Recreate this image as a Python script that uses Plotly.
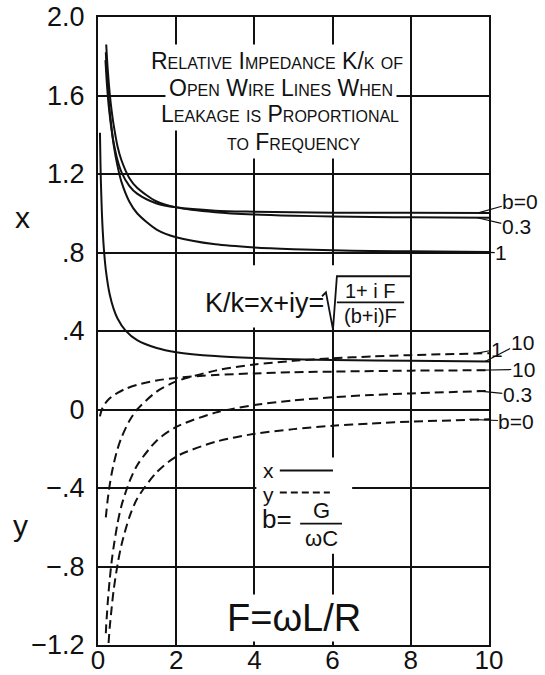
import plotly.graph_objects as go

# ---- data: F = omega L / R, x = Re(K/k), y = Im(K/k) for several b = G/(omega C)
F_b0 = [0.19, 0.22, 0.25, 0.27, 0.3, 0.35, 0.4, 0.5, 0.6, 0.8, 1, 1.5, 2, 3, 4, 5, 6, 7, 8, 10]
x_b0 = [1.78, 1.68, 1.60, 1.555, 1.50, 1.42, 1.36, 1.27, 1.21, 1.14, 1.10, 1.05, 1.03, 1.013,
        1.008, 1.005, 1.003, 1.0025, 1.002, 1.001]
Fy_b0 = [0.27, 0.3, 0.35, 0.4, 0.5, 0.6, 0.8, 1, 1.5, 2, 3, 4, 5, 6, 7, 8, 10]
y_b0 = [-1.19, -1.11, -1.01, -0.92, -0.79, -0.69, -0.55, -0.455, -0.32, -0.24, -0.165, -0.124,
        -0.10, -0.083, -0.071, -0.062, -0.05]

F_b03 = [0.21, 0.23, 0.25, 0.3, 0.35, 0.4, 0.5, 0.6, 0.8, 1, 1.5, 2, 3, 4, 5, 6, 7, 8, 10]
x_b03 = [1.86, 1.79, 1.73, 1.61, 1.52, 1.45, 1.34, 1.27, 1.18, 1.13, 1.06, 1.03, 1.005, 0.993,
         0.987, 0.984, 0.981, 0.979, 0.977]
Fy_b03 = [0.2, 0.21, 0.23, 0.25, 0.3, 0.35, 0.4, 0.5, 0.6, 0.8, 1, 1.5, 2, 3, 4, 5, 6, 7, 8, 10]
y_b03 = [-1.14, -1.10, -1.04, -0.98, -0.865, -0.773, -0.70, -0.58, -0.49, -0.37, -0.285, -0.159,
         -0.089, -0.016, 0.023, 0.046, 0.062, 0.074, 0.082, 0.095]

F_b1 = [0.2, 0.22, 0.25, 0.3, 0.35, 0.4, 0.5, 0.6, 0.8, 1, 1.5, 2, 3, 4, 5, 6, 7, 8, 10]
x_b1 = [1.82, 1.74, 1.65, 1.52, 1.43, 1.35, 1.24, 1.16, 1.06, 1.00, 0.917, 0.878, 0.842, 0.826,
        0.817, 0.811, 0.808, 0.806, 0.803]
y_b1 = [-0.55, -0.51, -0.456, -0.384, -0.326, -0.278, -0.201, -0.143, -0.059, 0.0, 0.091, 0.143,
        0.198, 0.229, 0.248, 0.261, 0.270, 0.277, 0.287]

F_b10 = [0.05, 0.06, 0.07, 0.08, 0.1, 0.12, 0.15, 0.2, 0.3, 0.4, 0.5, 0.7, 1, 1.5, 2, 3, 4, 5, 6, 8, 10]
x_b10 = [1.41, 1.29, 1.19, 1.12, 1.00, 0.914, 0.819, 0.712, 0.586, 0.513, 0.464, 0.403, 0.353,
         0.313, 0.292, 0.272, 0.262, 0.256, 0.252, 0.248, 0.245]
y_b10 = [-0.035, -0.026, -0.018, -0.011, 0.0, 0.009, 0.02, 0.035, 0.057, 0.073, 0.085, 0.105,
         0.126, 0.148, 0.161, 0.176, 0.184, 0.190, 0.193, 0.198, 0.200]

x_ticks = [0, 2, 4, 6, 8, 10]
x_ticktext = ["0", "2", "4", "6", "8", "10"]
y_ticks = [-1.2, -0.8, -0.4, 0, 0.4, 0.8, 1.2, 1.6, 2.0]
y_ticktext = ["\u22121.2", "\u2212.8", "\u2212.4", "0", ".4", ".8", "1.2", "1.6", "2.0"]

title_lines = ["Relative Impedance K/k of", "Open Wire Lines When",
               "Leakage is Proportional", "to Frequency"]

INK = "#111111"
FONT = "Liberation Sans"
DASH = "9px,5px"

fig = go.Figure()


def curve(F, v, dashed):
    fig.add_trace(go.Scatter(
        x=F, y=v, mode="lines", hoverinfo="skip",
        line=dict(color=INK, width=2, shape="spline", smoothing=0.8,
                  dash=DASH if dashed else "solid"),
    ))


curve(F_b0, x_b0, False)
curve(F_b03, x_b03, False)
curve(F_b1, x_b1, False)
curve(F_b10, x_b10, False)
curve(Fy_b0, y_b0, True)
curve(Fy_b03, y_b03, True)
curve(F_b1, y_b1, True)
curve(F_b10, y_b10, True)

# white panels that interrupt the grid behind the formula and the key
for x0, x1, y0, y1 in [(3.9, 6.09, 0.418, 0.735), (4.05, 6.5, -0.735, -0.245)]:
    fig.add_shape(type="rect", x0=x0, x1=x1, y0=y0, y1=y1, xref="x", yref="y",
                  fillcolor="white", line=dict(width=0), layer="between")

annotations = []

# title block, lettered in small capitals
title_pos = [(4.58, 1.776), (4.68, 1.638), (4.65, 1.505), (4.99, 1.362)]
for text, (tx, ty) in zip(title_lines, title_pos):
    annotations.append(dict(
        x=tx, y=ty, xref="x", yref="y", text=text, showarrow=False,
        font=dict(family=FONT, size=23, color=INK, variant="small-caps"),
        bgcolor="white", borderpad=3,
    ))

# formula K/k = x + iy = sqrt((1+iF)/((b+i)F))
annotations += [
    dict(x=4.25, y=0.541, xref="x", yref="y", text="K/k=x+iy=", showarrow=False,
         font=dict(family=FONT, size=27, color=INK)),
    dict(x=6.98, y=0.604, xref="x", yref="y", text="1+ i F", showarrow=False,
         font=dict(family=FONT, size=20, color=INK)),
    dict(x=6.96, y=0.478, xref="x", yref="y", text="(b+i)F", showarrow=False,
         font=dict(family=FONT, size=20, color=INK)),
]
fig.add_shape(type="path", xref="x", yref="y",
              path="M 5.73 0.577 L 5.83 0.597 L 6.01 0.408 L 6.11 0.679 L 7.98 0.679",
              line=dict(color=INK, width=1.8))
fig.add_shape(type="line", xref="x", yref="y", x0=6.11, x1=7.83, y0=0.546, y1=0.546,
              line=dict(color=INK, width=1.8))

# key
annotations += [
    dict(x=4.37, y=-0.312, xref="x", yref="y", text="x", showarrow=False, borderpad=0,
         font=dict(family=FONT, size=21, color=INK)),
    dict(x=4.37, y=-0.432, xref="x", yref="y", text="y", showarrow=False, borderpad=0,
         font=dict(family=FONT, size=21, color=INK)),
    dict(x=4.58, y=-0.56, xref="x", yref="y", text="b=", showarrow=False,
         font=dict(family=FONT, size=26, color=INK)),
    dict(x=5.71, y=-0.515, xref="x", yref="y", text="G", showarrow=False,
         font=dict(family=FONT, size=22, color=INK)),
    dict(x=5.71, y=-0.655, xref="x", yref="y", text="\u03c9C", showarrow=False,
         font=dict(family=FONT, size=22, color=INK)),
    dict(x=5.02, y=-1.06, xref="x", yref="y", text="F=\u03c9L/R", showarrow=False,
         font=dict(family=FONT, size=38, color=INK), bgcolor="white", borderpad=2),
]
fig.add_shape(type="line", xref="x", yref="y", x0=4.65, x1=6.01, y0=-0.311, y1=-0.311,
              line=dict(color=INK, width=2))
fig.add_shape(type="line", xref="x", yref="y", x0=4.65, x1=5.93, y0=-0.423, y1=-0.423,
              line=dict(color=INK, width=2, dash="7px,4px"))
fig.add_shape(type="line", xref="x", yref="y", x0=5.17, x1=6.24, y0=-0.582, y1=-0.582,
              line=dict(color=INK, width=1.8))

# curve labels at the right-hand end, tied to the last value of each series
labels = [
    ("b=0", 9.7, x_b0[-1], 43, -12),
    ("0.3", 9.7, x_b03[-1], 39, 9),
    ("1", 9.7, x_b1[-1], 24, 1),
    ("1", 9.7, y_b1[-1], 20, -4),
    ("10", 9.9, x_b10[-1], 37, -19),
    ("10", 9.7, y_b10[-1], 46, -1),
    ("0.3", 9.7, y_b03[-1], 40, 4),
    ("b=0", 9.5, y_b0[-1], 47, 2),
]
for text, lx, ly, ax, ay in labels:
    annotations.append(dict(
        x=lx, y=ly, xref="x", yref="y", text=text, showarrow=True,
        ax=ax, ay=ay, arrowhead=0, arrowwidth=1.2, arrowcolor=INK, standoff=0,
        borderpad=0, font=dict(family=FONT, size=21, color=INK),
    ))

# axis letters
annotations += [
    dict(x=-0.194, y=0.68, xref="paper", yref="paper", text="x", showarrow=False,
         xanchor="center", yanchor="middle",
         font=dict(family=FONT, size=30, color=INK)),
    dict(x=-0.199, y=0.19, xref="paper", yref="paper", text="y", showarrow=False,
         xanchor="center", yanchor="middle",
         font=dict(family=FONT, size=30, color=INK)),
]

axis_common = dict(
    showgrid=True, gridcolor=INK, gridwidth=1.5, zeroline=False,
    showline=True, linecolor=INK, linewidth=2, mirror=True, ticks="", ticklen=0,
    automargin=False,
)

fig.update_layout(
    width=545, height=675,
    margin=dict(l=98, r=56, t=17, b=30),
    paper_bgcolor="white", plot_bgcolor="white",
    showlegend=False,
    annotations=annotations,
    xaxis=dict(range=[0, 10], tickvals=x_ticks, ticktext=x_ticktext,
               ticklabelstandoff=-9, tickfont=dict(family=FONT, size=26, color=INK),
               **axis_common),
    yaxis=dict(range=[-1.2, 2.0], tickvals=y_ticks, ticktext=y_ticktext,
               ticklabelstandoff=6, tickfont=dict(family=FONT, size=27, color=INK),
               **axis_common),
)

fig.write_html("out.html")
